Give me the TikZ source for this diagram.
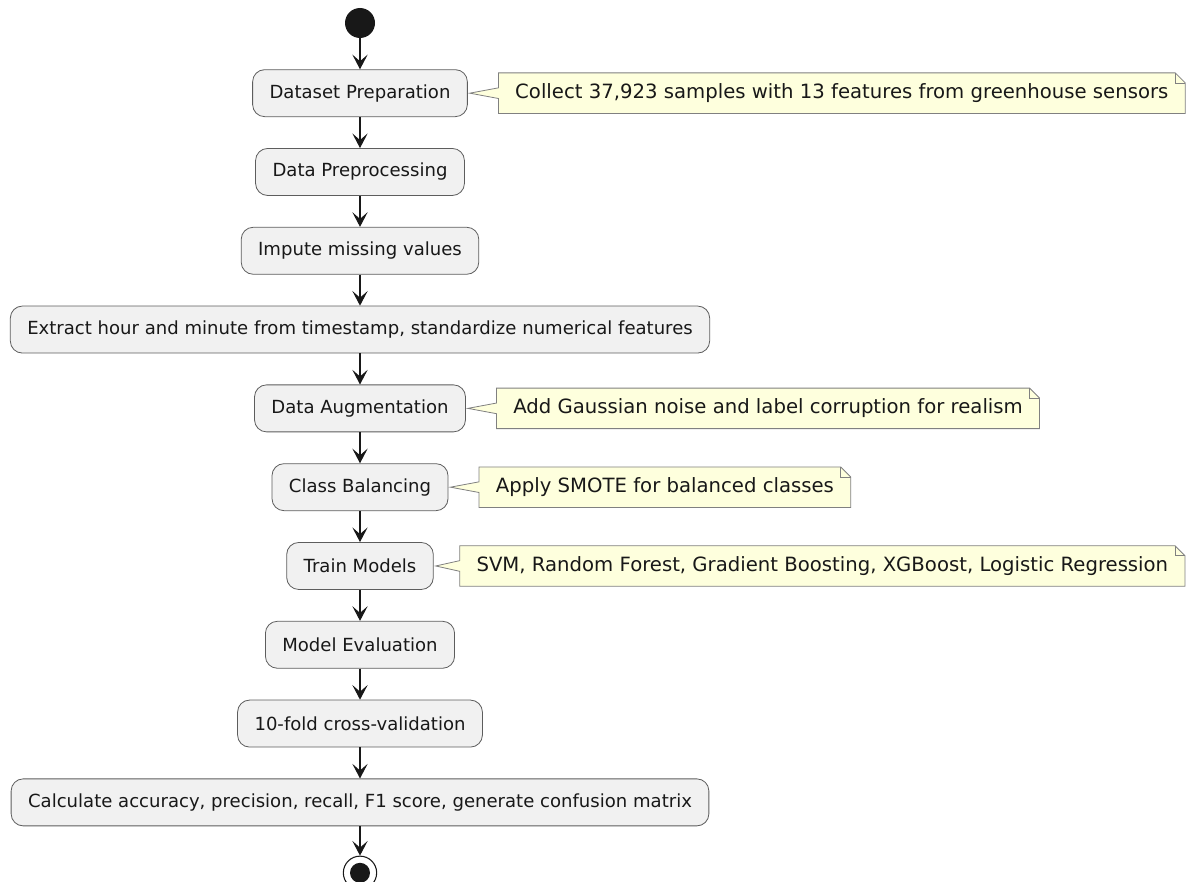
\documentclass[tikz,border=0pt]{standalone}
\usepackage{fontspec}
\setmainfont{DejaVu Sans}
\usetikzlibrary{arrows.meta,positioning,calc,backgrounds}
\definecolor{actfill}{HTML}{F1F1F1}
\definecolor{notefill}{HTML}{FEFFDD}
\definecolor{ink}{HTML}{181818}
% note outline: #1 note node, #2 activity it points to
\newcommand{\memoshape}[2]{%
  \draw[noteline] (#1.north west) -- ($(#1.north east)+(-7.5pt,0pt)$) -- ($(#1.north east)+(0pt,-7.5pt)$)
    -- (#1.south east) -- (#1.south west) -- ($(#1.west)+(0pt,-4pt)$)
    -- ($(#2.east)+(1.5pt,0pt)$) -- ($(#1.west)+(0pt,4pt)$) -- cycle;
  \draw[noteline,fill=none] ($(#1.north east)+(-7.5pt,0pt)$) -- ++(0pt,-7.5pt) -- ++(7.5pt,0pt);
}

\begin{document}
\begin{tikzpicture}[
  x=0.75pt,y=-0.75pt,
  act/.style={rounded corners=9pt,draw=ink!70,line width=0.6pt,fill=actfill,minimum height=35.25pt,
    inner xsep=12.7pt,font=\fontsize{13.55}{16}\selectfont,text=ink},
  memo/.style={minimum height=30pt,inner xsep=12.4pt,font=\fontsize{14.75}{17}\selectfont,text=ink},
  noteline/.style={draw=ink!55,line width=0.6pt,fill=notefill},
  flow/.style={-{Stealth[length=11pt,width=11.5pt,inset=5pt]},line width=0.8pt,ink},
  begindot/.style={circle,fill=ink,minimum size=22.5pt,inner sep=0pt},
  enddot/.style={circle,draw=ink,line width=0.8pt,minimum size=25pt,inner sep=0pt}
]
\useasboundingbox (0,0) rectangle (1187,881);

\node[begindot] (begin) at (360,23) {};
\node[act,below=23.25pt of begin] (dprep) {Dataset Preparation};
\node[act,below=23.25pt of dprep] (dpre) {Data Preprocessing};
\node[act,below=23.25pt of dpre] (impute) {Impute missing values};
\node[act,below=23.25pt of impute] (extract) {Extract hour and minute from timestamp, standardize numerical features};
\node[act,below=23.25pt of extract] (augment) {Data Augmentation};
\node[act,below=23.25pt of augment] (balance) {Class Balancing};
\node[act,below=23.25pt of balance] (train) {Train Models};
\node[act,below=23.25pt of train] (evalm) {Model Evaluation};
\node[act,below=23.25pt of evalm] (cv) {10-fold cross-validation};
\node[act,below=23.25pt of cv] (metrics) {Calculate accuracy, precision, recall, F1 score, generate confusion matrix};
\node[enddot,below=22pt of metrics] (finish) {};
\node[begindot,minimum size=15pt] (finishdot) at (finish) {};

% notes
\node[memo,right=23pt of dprep] (ndprep) {Collect 37,923 samples with 13 features from greenhouse sensors};
\node[memo,right=23pt of augment] (naugment) {Add Gaussian noise and label corruption for realism};
\node[memo,right=23pt of balance] (nbalance) {Apply SMOTE for balanced classes};
\node[memo,right=19.5pt of train] (ntrain) {SVM, Random Forest, Gradient Boosting, XGBoost, Logistic Regression};
\begin{scope}[on background layer]
  \memoshape{ndprep}{dprep}
  \memoshape{naugment}{augment}
  \memoshape{nbalance}{balance}
  \memoshape{ntrain}{train}
\end{scope}

\foreach \a/\b in {begin/dprep,dprep/dpre,dpre/impute,impute/extract,extract/augment,
  augment/balance,balance/train,train/evalm,evalm/cv,cv/metrics,metrics/finish}
  \draw[flow] (\a) -- (\b);
\end{tikzpicture}
\end{document}
